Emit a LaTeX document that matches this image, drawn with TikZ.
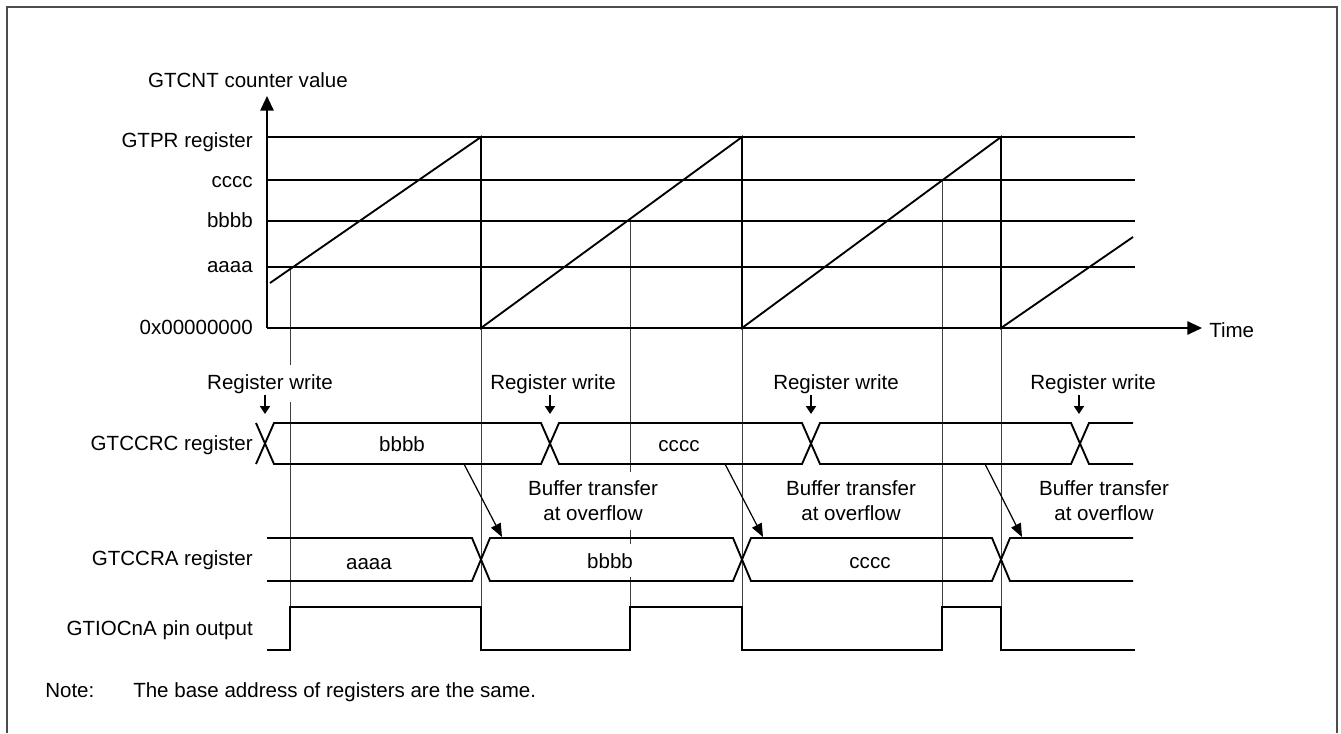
\documentclass[tikz,border=0pt]{standalone}
\usepackage{fontspec}
\setmainfont{Liberation Sans}
\usetikzlibrary{arrows.meta}
\begin{document}
\begin{tikzpicture}[x=0.75pt,y=-0.75pt,
  txt/.style={font=\fontsize{15.4}{18.75}\selectfont, inner sep=0pt},
  mask/.style={font=\fontsize{15.4}{18.75}\selectfont, fill=white, inner xsep=4pt, inner ysep=6.5pt},
  heavy/.style={line width=1.4pt},
  guide/.style={line width=0.6pt, black!75},
  bus/.style={line width=1.4pt},
  wr/.style={-{Triangle[length=6pt,width=7.5pt]}, line width=1.4pt},
  xfer/.style={-{Triangle[length=10pt,width=8pt]}, line width=0.9pt},
  axis/.style={-{Triangle[length=11pt,width=10pt]}, line width=1.4pt}]
\useasboundingbox (0,0) rectangle (1341,733);
% frame
\draw[line width=1pt, black!70] (7,733) -- (7,7) -- (1337,7) -- (1337,733);

% guides
\draw[guide] (290,267) -- (290,607);
\draw[guide] (481,328) -- (481,650);
\draw[guide] (630,221) -- (630,607);
\draw[guide] (742,328) -- (742,650);
\draw[guide] (942,180) -- (942,607);
\draw[guide] (1001,328) -- (1001,650);

% axes
\coordinate (O) at (267,328);
\coordinate (Ytop) at (267,96);
\coordinate (Tend) at (1202,328);
\draw[axis] (O) -- (Ytop);
\draw[axis] (O) -- (Tend);
\node[txt, anchor=base] (ylab) at (248,87) {GTCNT counter value};
\node[txt, anchor=base west] (tlab) at (1209,337) {Time};

% levels
\foreach \y in {137,180,221,267} \draw[heavy] (267,\y) -- (1135,\y);
\node[txt, anchor=base east] (lgtpr) at (253,147) {GTPR register};
\node[txt, anchor=base east] (lc) at (253,187) {cccc};
\node[txt, anchor=base east] (lb) at (253,227) {bbbb};
\node[txt, anchor=base east] (la) at (253,272) {aaaa};
\node[txt, anchor=base east] (lz) at (253,334) {0x00000000};

% sawtooth
\draw[heavy] (270,283) -- (481,137) -- (481,328) -- (742,137) -- (742,328) -- (1001,137) -- (1001,328) -- (1133,237);

% GTCCRC bus
\draw[bus] (256,464) -- (274,423) -- (541,423) -- (559,464) -- (802,464) -- (820,423) -- (1071,423) -- (1089,464) -- (1133,464);
\draw[bus] (256,423) -- (274,464) -- (541,464) -- (559,423) -- (802,423) -- (820,464) -- (1071,464) -- (1089,423) -- (1133,423);
\node[txt, anchor=base east] (lcrc) at (253,450) {GTCCRC register};
\node[mask, anchor=base] (vc1) at (402,451) {bbbb};
\node[mask, anchor=base] (vc2) at (679,451) {cccc};

% GTCCRA bus
\draw[bus] (267,538) -- (472,538) -- (490,581) -- (733,581) -- (751,538) -- (992,538) -- (1010,581) -- (1133,581);
\draw[bus] (267,581) -- (472,581) -- (490,538) -- (733,538) -- (751,581) -- (992,581) -- (1010,538) -- (1133,538);
\node[txt, anchor=base east] (lcra) at (253,565) {GTCCRA register};
\node[mask, anchor=base] (va1) at (369,569) {aaaa};
\node[mask, anchor=base] (va2) at (610,568) {bbbb};
\node[mask, anchor=base] (va3) at (870,568) {cccc};

% pin output
\draw[heavy] (267,650) -- (290,650) -- (290,607) -- (481,607) -- (481,650) -- (630,650) -- (630,607) -- (742,607) -- (742,650) -- (942,650) -- (942,607) -- (1001,607) -- (1001,650) -- (1135,650);
\node[txt, anchor=base east] (lpin) at (253,635) {GTIOCnA pin output};

% register write
\node[mask, anchor=base] (rw1) at (270,389) {Register write};
\node[mask, anchor=base] (rw2) at (553,389) {Register write};
\node[mask, anchor=base] (rw3) at (836,389) {Register write};
\node[mask, anchor=base] (rw4) at (1093,389) {Register write};
\coordinate (w1a) at (265,395); \coordinate (w1b) at (265,414);
\coordinate (w2a) at (550,395); \coordinate (w2b) at (550,414);
\coordinate (w3a) at (811,395); \coordinate (w3b) at (811,414);
\coordinate (w4a) at (1079,395); \coordinate (w4b) at (1079,414);
\draw[wr] (w1a) -- (w1b);
\draw[wr] (w2a) -- (w2b);
\draw[wr] (w3a) -- (w3b);
\draw[wr] (w4a) -- (w4b);

% buffer transfer
\node[mask, align=center] (bt1) at (593,501) {Buffer transfer\\at overflow};
\node[mask, align=center] (bt2) at (851,501) {Buffer transfer\\at overflow};
\node[mask, align=center] (bt3) at (1104,501) {Buffer transfer\\at overflow};
\coordinate (b1s) at (464,464); \coordinate (b1e) at (502,537);
\coordinate (b2s) at (725,464); \coordinate (b2e) at (763,537);
\coordinate (b3s) at (985,464); \coordinate (b3e) at (1022,537);
\draw[xfer] (b1s) -- (b1e);
\draw[xfer] (b2s) -- (b2e);
\draw[xfer] (b3s) -- (b3e);

% note
\node[txt, anchor=base west] (note) at (45,697) {Note:};
\node[txt, anchor=base west] (notetext) at (133,697) {The base address of registers are the same.};
\end{tikzpicture}
\end{document}
